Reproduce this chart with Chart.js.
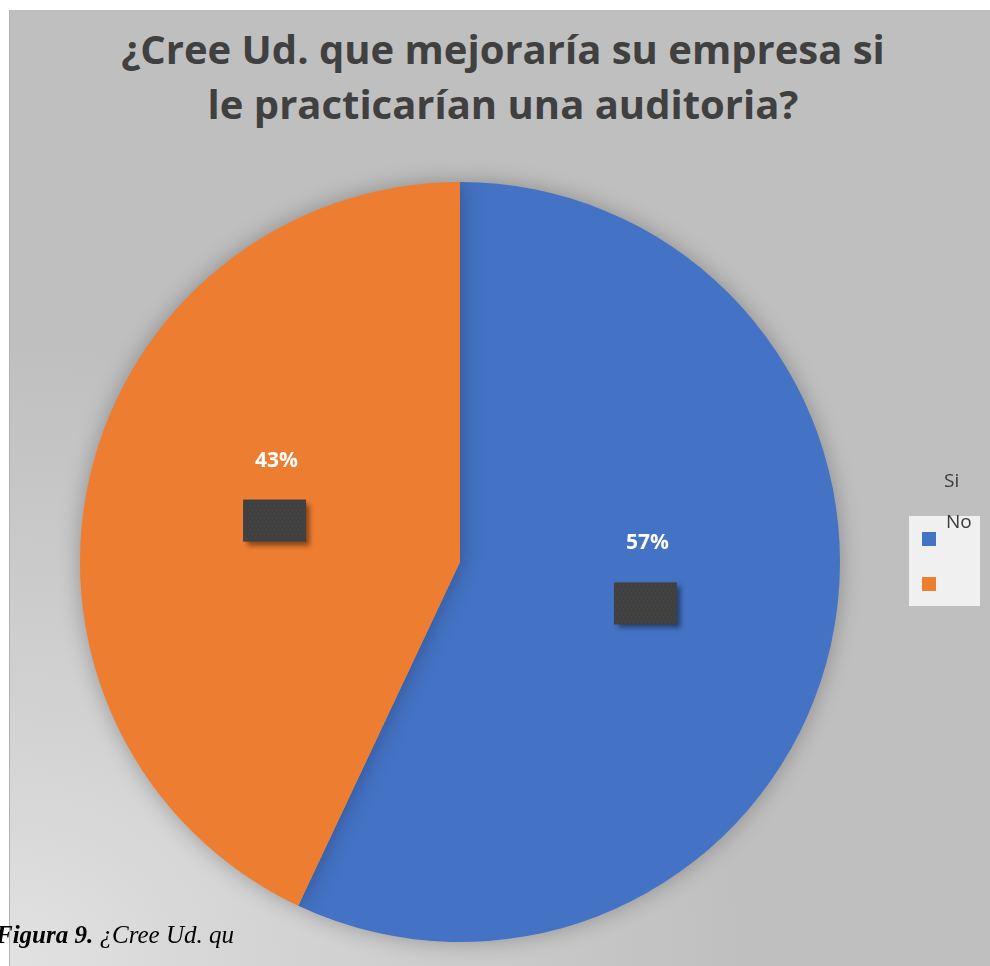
<!DOCTYPE html>
<html>
<head>
<meta charset="utf-8">
<script src="https://cdn.jsdelivr.net/npm/chart.js@4.4.1/dist/chart.umd.min.js"></script>
<style>
  html, body { margin:0; padding:0; background:#ffffff; width:990px; height:966px; overflow:hidden; }
  #bg { position:absolute; left:9px; top:10px; width:981px; height:956px;
        background: radial-gradient(ellipse 75% 65% at 0% 100%, #e2e2e2 0%, #d4d4d4 35%, #bfbfbf 100%);
        border-left:1px solid #b0b0b0; box-sizing:border-box; }
  #title { position:absolute; left:9px; width:988px; top:21px; text-align:center;
           font-family:"Open Sans", sans-serif; font-weight:700; font-size:40px; line-height:55px; color:#404040; }
  #wrap { position:absolute; left:0; top:0; width:990px; height:966px; }
  #caption { position:absolute; left:-4px; top:921px; font-family:"Liberation Serif","DejaVu Serif",serif;
             font-style:italic; font-size:25px; color:#000; white-space:nowrap; }
</style>
</head>
<body>
<div id="bg"></div>
<div id="title"></div>
<div id="wrap"><canvas id="c" width="990" height="966"></canvas></div>
<div id="caption"><b>Figura 9.</b> ¿Cree Ud. qu</div>
<script>
const titleLines = ["¿Cree Ud. que mejoraría su empresa si", "le practicarían una auditoria?"];
const categories = ["Si", "No"];
const values = [57, 43];
const percentLabels = ["57%", "43%"];
const colors = ["#4472c4", "#ed7d31"];

document.getElementById('title').innerHTML = titleLines.join('<br>');

const shadowPlugin = {
  id: 'pieShadow',
  beforeDatasetsDraw(chart) {
    const ctx = chart.ctx;
    ctx.save();
    ctx.shadowColor = 'rgba(0,0,0,0.28)';
    ctx.shadowBlur = 22;
    ctx.shadowOffsetX = 0;
    ctx.shadowOffsetY = 0;
  },
  afterDatasetsDraw(chart) {
    chart.ctx.restore();
  }
};

const labelPlugin = {
  id: 'sliceLabels',
  afterDatasetsDraw(chart) {
    const ctx = chart.ctx;
    const meta = chart.getDatasetMeta(0);
    meta.data.forEach((arc, i) => {
      const p = arc.tooltipPosition();
      const bw = 63, bh = 42;
      ctx.save();
      ctx.shadowColor = 'rgba(0,0,0,0.45)';
      ctx.shadowBlur = 5;
      ctx.shadowOffsetX = 4;
      ctx.shadowOffsetY = 4;
      ctx.fillStyle = '#404040';
      ctx.fillRect(p.x - bw / 2, p.y - bh / 2, bw, bh);
      ctx.restore();
      ctx.save();
      ctx.fillStyle = 'rgba(90,90,90,0.6)';
      for (let yy = 2; yy < bh; yy += 4) {
        for (let xx = (yy % 8 === 2 ? 1 : 3); xx < bw; xx += 4) {
          ctx.fillRect(p.x - bw / 2 + xx, p.y - bh / 2 + yy, 1, 1);
        }
      }
      ctx.restore();
      ctx.save();
      ctx.fillStyle = '#ffffff';
      ctx.font = 'bold 21px "Open Sans", sans-serif';
      ctx.textAlign = 'center';
      ctx.textBaseline = 'middle';
      ctx.fillText(percentLabels[i], p.x + 2, p.y - 60);
      ctx.restore();
    });
  }
};

const legendPlugin = {
  id: 'customLegend',
  afterDraw(chart) {
    const ctx = chart.ctx;
    ctx.save();
    ctx.fillStyle = '#f0f0f0';
    ctx.fillRect(909, 516, 71, 90);
    const sq = [532, 577];
    colors.forEach((c, i) => {
      ctx.fillStyle = c;
      ctx.fillRect(922, sq[i], 14, 14);
    });
    ctx.fillStyle = '#3a3a3a';
    ctx.font = '19px "Open Sans", sans-serif';
    ctx.textAlign = 'left';
    ctx.textBaseline = 'middle';
    const tx = [944, 946];
    const ty = [482, 523];
    categories.forEach((t, i) => ctx.fillText(t, tx[i], ty[i]));
    ctx.restore();
  }
};

new Chart(document.getElementById('c'), {
  type: 'pie',
  data: {
    labels: categories,
    datasets: [{
      data: values,
      backgroundColor: colors,
      borderWidth: 0
    }]
  },
  options: {
    responsive: false,
    animation: false,
    layout: { padding: { left: 80, right: 150, top: 182, bottom: 24 } },
    plugins: {
      legend: { display: false },
      title: { display: false },
      tooltip: { enabled: false }
    }
  },
  plugins: [shadowPlugin, labelPlugin, legendPlugin]
});
</script>
</body>
</html>
